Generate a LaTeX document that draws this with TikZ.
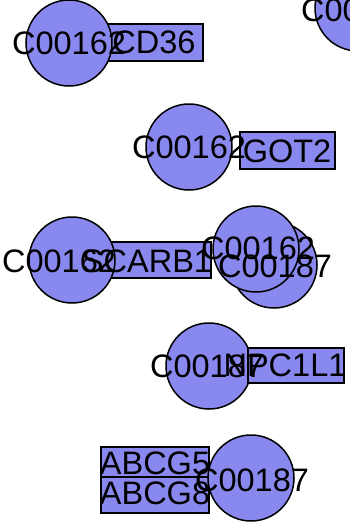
\documentclass[tikz,border=0pt]{standalone}
\usepackage{fontspec}
\setmainfont{Liberation Sans}
\definecolor{nodefill}{RGB}{136,136,238}
\begin{document}
\begin{tikzpicture}[x=1pt,y=-1pt,
  cpd/.style={circle,draw=black,fill=nodefill,line width=1.5pt,minimum size=86pt,inner sep=0pt},
  gene/.style={rectangle,draw=black,fill=nodefill,line width=1.5pt,inner sep=0pt},
  lbl/.style={font=\fontsize{32.5}{32.5}\selectfont,inner sep=0pt,text=black}]
\useasboundingbox (0,0) rectangle (349,525);
% row 1
\node[gene,minimum width=95pt,minimum height=37pt] (cd36) at (155.5,42.5) {};
\node[cpd] (c1) at (69,43) {};
% top right
\node[cpd] (c2) at (358,8) {};
% row 2
\node[cpd] (c3) at (189,147) {};
\node[gene,minimum width=95pt,minimum height=37pt] (got2) at (287.5,150.5) {};
% row 3
\node[gene,minimum width=101pt,minimum height=36pt] (scarb1) at (160.5,260) {};
\node[cpd] (c4) at (72,260) {};
\node[cpd] (c6) at (274,265) {};
\node[cpd] (c5) at (256,249) {};
% row 4
\node[cpd] (c7) at (209,366) {};
\node[gene,minimum width=96pt,minimum height=35pt] (npc) at (296,365.5) {};
% row 5
\node[gene,minimum width=108pt,minimum height=30pt] (abcg5) at (155,462) {};
\node[gene,minimum width=108pt,minimum height=36pt] (abcg8) at (155,495) {};
\node[cpd] (c8) at (251,478) {};
% labels
\node[lbl] (t1) at (69,43) {C00162};
\node[lbl] (tcd36) at (154,42) {CD36};
\node[lbl] (t2) at (358,10) {C00162};
\node[lbl] (t3) at (189,147) {C00162};
\node[lbl] (tgot2) at (287,151) {GOT2};
\node[lbl] (t4) at (59,261) {C00162};
\node[lbl] (tscarb1) at (147,261) {SCARB1};
\node[lbl] (t5) at (258,248) {C00162};
\node[lbl] (t6) at (275,266) {C00187};
\node[lbl] (t7) at (207,366) {C00187};
\node[lbl] (tnpc) at (285,365) {NPC1L1};
\node[lbl] (tabcg5) at (155,463) {ABCG5};
\node[lbl] (tabcg8) at (155,493) {ABCG8};
\node[lbl] (t8) at (252,480) {C00187};
\end{tikzpicture}
\end{document}
